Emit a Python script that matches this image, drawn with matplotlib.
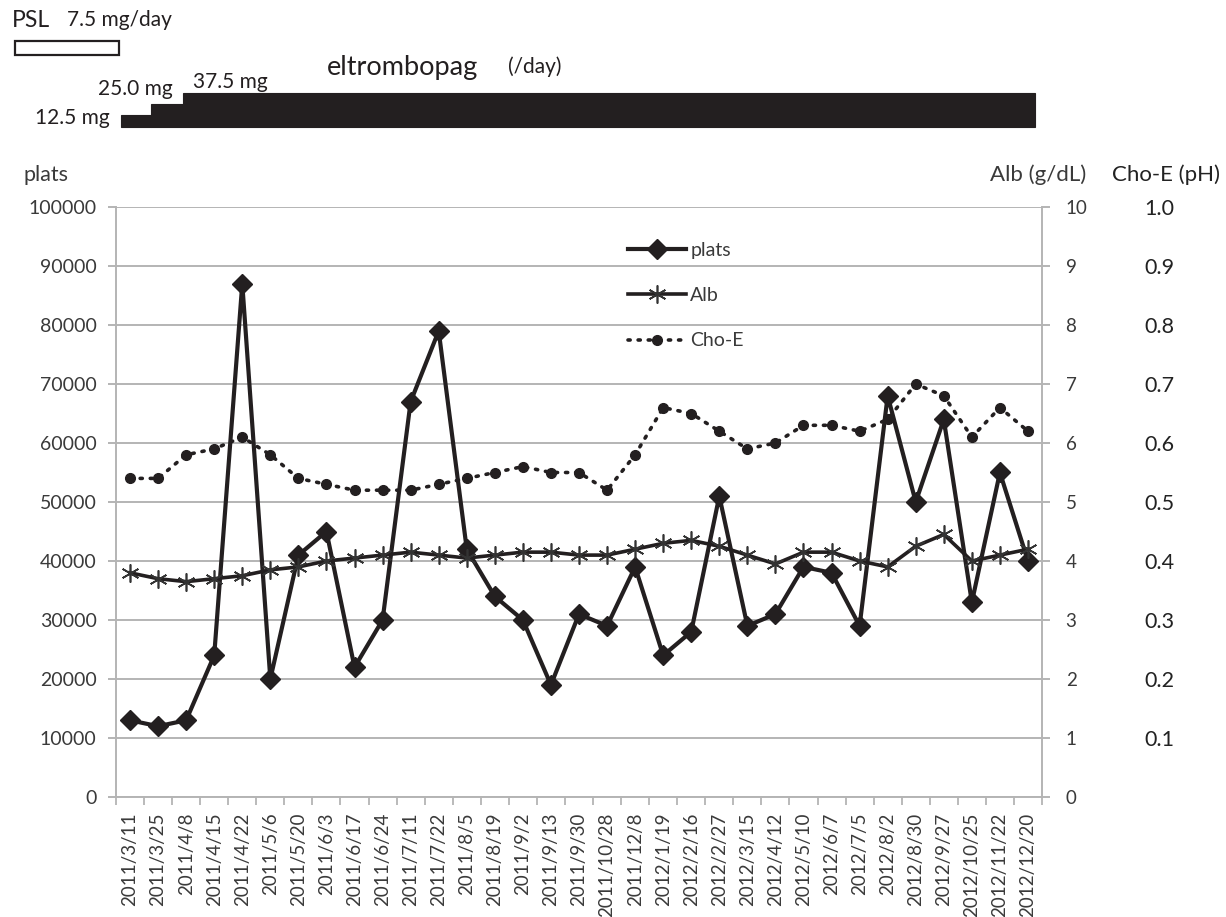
import matplotlib
matplotlib.use("Agg")
import matplotlib.pyplot as plt
import numpy as np

plt.rcParams['font.family'] = ['Lato', 'DejaVu Sans']

dates = ["2011/3/11", "2011/3/25", "2011/4/8", "2011/4/15", "2011/4/22", "2011/5/6",
         "2011/5/20", "2011/6/3", "2011/6/17", "2011/6/24", "2011/7/11", "2011/7/22",
         "2011/8/5", "2011/8/19", "2011/9/2", "2011/9/13", "2011/9/30", "2011/10/28",
         "2011/12/8", "2012/1/19", "2012/2/16", "2012/2/27", "2012/3/15", "2012/4/12",
         "2012/5/10", "2012/6/7", "2012/7/5", "2012/8/2", "2012/8/30", "2012/9/27",
         "2012/10/25", "2012/11/22", "2012/12/20"]

plats = [13000, 12000, 13000, 24000, 87000, 20000, 41000, 45000, 22000, 30000, 67000,
         79000, 42000, 34000, 30000, 19000, 31000, 29000, 39000, 24000, 28000, 51000,
         29000, 31000, 39000, 38000, 29000, 68000, 50000, 64000, 33000, 55000, 40000]

alb = [3.8, 3.7, 3.65, 3.7, 3.75, 3.85, 3.9, 4.0, 4.05, 4.1, 4.15, 4.1, 4.05, 4.1, 4.15,
       4.15, 4.1, 4.1, 4.2, 4.3, 4.35, 4.25, 4.1, 3.95, 4.15, 4.15, 4.0, 3.9, 4.25, 4.45,
       4.0, 4.1, 4.2]

choe = [0.54, 0.54, 0.58, 0.59, 0.61, 0.58, 0.54, 0.53, 0.52, 0.52, 0.52, 0.53, 0.54,
        0.55, 0.56, 0.55, 0.55, 0.52, 0.58, 0.66, 0.65, 0.62, 0.59, 0.60, 0.63, 0.63,
        0.62, 0.64, 0.70, 0.68, 0.61, 0.66, 0.62]

# eltrombopag dosing periods, in units of visit index
dose_mg = [12.5, 25.0, 37.5]
dose_labels = ["12.5 mg", "25.0 mg", "37.5 mg"]
dose_start = [-0.32, 0.75, 1.89]
dose_end = [0.75, 1.89, 32.25]
# prednisolone period
psl_start, psl_end = -4.1, -0.39

plats_ticks = np.arange(0, 100001, 10000)
alb_ticks = np.arange(0, 11, 1)
choe_ticks = [0.1, 0.2, 0.3, 0.4, 0.5, 0.6, 0.7, 0.8, 0.9, 1.0]

W, H = 1226, 917
fig = plt.figure(figsize=(W / 100, H / 100), dpi=100)
x0, x1, y0, y1 = 116, 1042, 207, 797
ax = fig.add_axes([x0 / W, 1 - y1 / H, (x1 - x0) / W, (y1 - y0) / H])

ink = "#231f20"
grid = "#b4b4b4"
txt = "#3a3a3a"
x = np.arange(len(dates))

ax.set_xlim(-0.5, len(dates) - 0.5)
ax.set_ylim(0, 100000)
ax.set_yticks(plats_ticks)
ax.set_yticklabels([str(v) for v in plats_ticks])
ax.grid(axis='y', color=grid, lw=1.4)
ax.set_axisbelow(True)
ax.set_xticks(x)
ax.set_xticklabels(dates, rotation=90, fontsize=13.5, color=txt)
ax.set_xticks(np.arange(-0.5, len(dates), 1), minor=True)
ax.tick_params(axis='x', which='major', length=0, pad=11)
ax.tick_params(axis='x', which='minor', length=6, color=grid, width=1.3)
ax.tick_params(axis='y', length=6, color=grid, width=1.4, pad=8, labelsize=14, labelcolor=txt)
for side in ['left', 'bottom', 'right']:
    ax.spines[side].set_color(grid)
    ax.spines[side].set_linewidth(1.4)
ax.spines['top'].set_visible(False)

ax2 = ax.twinx()
ax2.set_ylim(0, 10)
ax2.set_yticks(alb_ticks)
ax2.set_yticklabels([str(v) for v in alb_ticks])
ax2.tick_params(axis='y', length=6, color=grid, width=1.4, pad=11, labelsize=13.5, labelcolor=txt)
for s in ax2.spines.values():
    s.set_visible(False)

ax3 = ax.twinx()
ax3.set_ylim(0, 1)
ax3.set_yticks(choe_ticks)
ax3.set_yticklabels(["%.1f" % v for v in choe_ticks])
ax3.tick_params(axis='y', length=0, pad=74, labelsize=15.5, labelcolor="#222222")
for s in ax3.spines.values():
    s.set_visible(False)

l1, = ax.plot(x, plats, color=ink, lw=3, marker='D', markersize=10.5, label='plats', zorder=5)
l2, = ax2.plot(x, alb, color=ink, lw=2.6, marker=(6, 2, 0), markersize=13,
               markeredgewidth=1.2, markeredgecolor="#333333", label='Alb', zorder=4)
l3, = ax3.plot(x, choe, color=ink, lw=2.6, linestyle=(0, (0.6, 2.2)), dash_capstyle='round',
               marker='o', markersize=7, label='Cho-E', zorder=3)

leg = ax3.legend(handles=[l1, l2, l3], loc='upper left', bbox_to_anchor=(0.5425, 0.957),
                 frameon=False, fontsize=14, handlelength=3.0, handletextpad=0.2,
                 labelspacing=1.45, numpoints=1, borderpad=0)
for t in leg.get_texts():
    t.set_color(txt)

fig.text(24 / W, 1 - 175 / H, "plats", fontsize=15.5, color=txt, va='center')
fig.text(990 / W, 1 - 175 / H, "Alb (g/dL)", fontsize=16, color=txt, va='center')
fig.text(1112 / W, 1 - 175 / H, "Cho-E (pH)", fontsize=16, color="#222222", va='center')

# dosing panel above the chart, sharing the visit index scale
px_per_mg = 0.9
base = 126.5
axt = fig.add_axes([x0 / W, 1 - base / H, (x1 - x0) / W, base / H])
axt.set_xlim(ax.get_xlim())
axt.set_ylim(0, base / px_per_mg)
axt.axis('off')
widths = [e - s for s, e in zip(dose_start, dose_end)]
axt.bar(dose_start, dose_mg, width=widths, align='edge', color=ink, edgecolor=ink,
        lw=0.8, clip_on=False)
axt.bar([psl_start], [15.5], width=[psl_end - psl_start], bottom=80, align='edge',
        facecolor='white', edgecolor=ink, lw=1.6, clip_on=False)

axt.text(-0.71, 9.4, dose_labels[0], fontsize=15, ha='right', va='center', color=ink, clip_on=False)
axt.text(1.53, 41.5, dose_labels[1], fontsize=15, ha='right', va='center', color=ink, clip_on=False)
axt.text(2.25, 49, dose_labels[2], fontsize=15, ha='left', va='center', color=ink, clip_on=False)
axt.text(7.02, 66, "eltrombopag", fontsize=19.5, ha='left', va='center', color=ink, clip_on=False)
axt.text(13.47, 66, "(/day)", fontsize=15, ha='left', va='center', color=ink, clip_on=False)
axt.text(-4.2, 118, "PSL", fontsize=16.5, ha='left', va='center', color=ink, clip_on=False)
axt.text(-2.25, 118, "7.5 mg/day", fontsize=15, ha='left', va='center', color=ink, clip_on=False)

fig.savefig("out.png", dpi=100)
